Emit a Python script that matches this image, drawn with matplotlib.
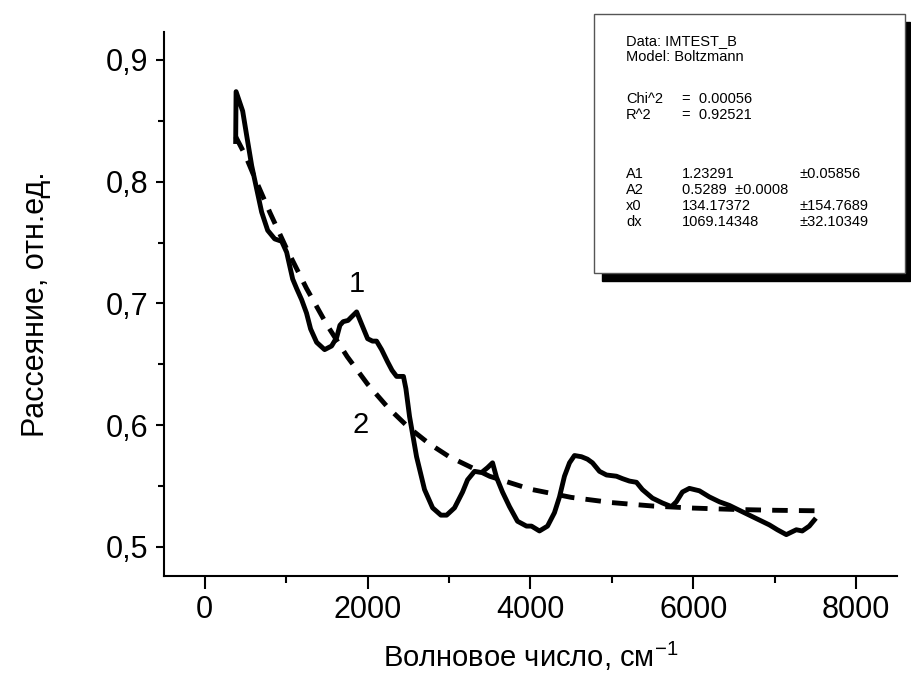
import numpy as np
import matplotlib
matplotlib.use("Agg")
import matplotlib.pyplot as plt
from matplotlib.patches import Rectangle
from matplotlib.ticker import MultipleLocator

plt.rcParams['font.family'] = ['Liberation Sans', 'DejaVu Sans']
plt.rcParams['mathtext.fontset'] = 'custom'
plt.rcParams['mathtext.rm'] = 'Liberation Sans'
plt.rcParams['mathtext.it'] = 'Liberation Sans'

# измеренная кривая (1)
wave = [380, 385, 466, 515, 577, 638, 699, 773, 859, 945, 1006, 1043, 1080,
        1130, 1190, 1250, 1300, 1374, 1472, 1558, 1620, 1660, 1700, 1760, 1804,
        1865, 1926, 2000, 2060, 2110, 2172, 2245, 2300, 2356, 2440, 2470, 2515,
        2601, 2699, 2798, 2900, 2970, 3067, 3166, 3227, 3313, 3399, 3472, 3534,
        3583, 3656, 3742, 3840, 3951, 4012, 4110, 4209, 4294, 4356, 4417, 4479,
        4540, 4626, 4699, 4761, 4847, 4933, 5055, 5129, 5215, 5301, 5374, 5497,
        5620, 5730, 5791, 5865, 5951, 6074, 6196, 6319, 6442, 6564, 6687, 6810,
        6933, 7031, 7141, 7202, 7264, 7337, 7423, 7485]
scatter = [0.833, 0.874, 0.858, 0.838, 0.813, 0.794, 0.775, 0.760, 0.753, 0.751,
           0.742, 0.731, 0.720, 0.712, 0.703, 0.692, 0.679, 0.668, 0.662, 0.665,
           0.672, 0.682, 0.685, 0.686, 0.689, 0.693, 0.683, 0.671, 0.669, 0.669,
           0.662, 0.652, 0.645, 0.640, 0.640, 0.630, 0.607, 0.574, 0.547, 0.532,
           0.526, 0.526, 0.532, 0.545, 0.555, 0.562, 0.561, 0.565, 0.569, 0.557,
           0.545, 0.533, 0.521, 0.517, 0.517, 0.513, 0.517, 0.528, 0.541, 0.558,
           0.569, 0.575, 0.574, 0.572, 0.569, 0.562, 0.559, 0.558, 0.556, 0.554,
           0.553, 0.547, 0.540, 0.536, 0.533, 0.537, 0.545, 0.548, 0.546, 0.541,
           0.537, 0.534, 0.530, 0.526, 0.522, 0.518, 0.514, 0.510, 0.512, 0.514,
           0.513, 0.517, 0.522]

# аппроксимация Больцмана (2)
fit_x = [380, 500, 600, 800, 1000, 1250, 1500, 1750, 2000, 2250, 2500, 2750,
         3000, 3500, 4000, 4500, 5000, 5500, 6000, 6500, 7000, 7500]
fit_y = [0.8370, 0.8215, 0.8054, 0.7747, 0.7457, 0.7123, 0.6824, 0.6562,
         0.6336, 0.6144, 0.5983, 0.5850, 0.5741, 0.5579, 0.5473, 0.5406,
         0.5363, 0.5335, 0.5318, 0.5307, 0.5300, 0.5296]

x_ticks = [0, 2000, 4000, 6000, 8000]
y_ticks = [0.5, 0.6, 0.7, 0.8, 0.9]
y_tick_labels = ['0,5', '0,6', '0,7', '0,8', '0,9']

stats = [
    ("Data: IMTEST_B", "", ""),
    ("Model: Boltzmann", "", ""),
    ("Chi^2", "=  0.00056", ""),
    ("R^2", "=  0.92521", ""),
    ("A1", "1.23291", "\u00b10.05856"),
    ("A2", "0.5289  \u00b10.0008", ""),
    ("x0", "134.17372", "\u00b1154.7689"),
    ("dx", "1069.14348", "\u00b132.10349"),
]
stats_y = [41, 57, 99, 115, 174, 190, 206, 222]

W, H = 912, 689
fig = plt.figure(figsize=(W / 100, H / 100), dpi=100)
ax = fig.add_axes([164 / W, 1 - 576 / H, 733 / W, 544 / H])

ax.plot(wave, scatter, color='black', lw=3.5, solid_joinstyle='round')
ax.plot(fit_x, fit_y, color='black', lw=3.5, dashes=(3.2, 2.3))

ax.set_xlim(-500, 8500)
ax.set_ylim(0.476, 0.923)
ax.set_xticks(x_ticks)
ax.set_yticks(y_ticks)
ax.set_yticklabels(y_tick_labels)
ax.xaxis.set_minor_locator(MultipleLocator(1000))
ax.yaxis.set_minor_locator(MultipleLocator(0.05))
ax.tick_params(which='both', direction='out', width=1.5, labelsize=22, colors='black')
ax.tick_params(axis='x', which='major', length=9, pad=5)
ax.tick_params(axis='x', which='minor', length=5)
ax.tick_params(axis='y', which='major', length=6, pad=5)
ax.tick_params(axis='y', which='minor', length=4)
ax.spines['top'].set_visible(False)
ax.spines['right'].set_visible(False)
for s in ('left', 'bottom'):
    ax.spines[s].set_linewidth(1.5)

ax.set_xlabel("Волновое число, см$^{-1}$", fontsize=21, labelpad=10)
ax.set_ylabel("Рассеяние, отн.ед.", fontsize=22, labelpad=40)

ax.text(1865, 0.716, "1", fontsize=21, ha='center', va='center')
ax.text(1914, 0.600, "2", fontsize=21, ha='center', va='center')

# рамка со статистикой
fig.patches.append(Rectangle((602 / W, 1 - 281 / H), 308 / W, 259 / H,
                             transform=fig.transFigure, facecolor='black',
                             edgecolor='black', zorder=5))
fig.patches.append(Rectangle((594 / W, 1 - 273 / H), 311 / W, 259 / H,
                             transform=fig.transFigure, facecolor='white',
                             edgecolor='#555555', lw=1, zorder=6))
for (c1, c2, c3), yy in zip(stats, stats_y):
    for txt, xx in ((c1, 626), (c2, 682), (c3, 800)):
        if txt:
            fig.text(xx / W, 1 - yy / H, txt, fontsize=10.5, va='center',
                     ha='left', zorder=7)

fig.savefig("out.png", dpi=100)
